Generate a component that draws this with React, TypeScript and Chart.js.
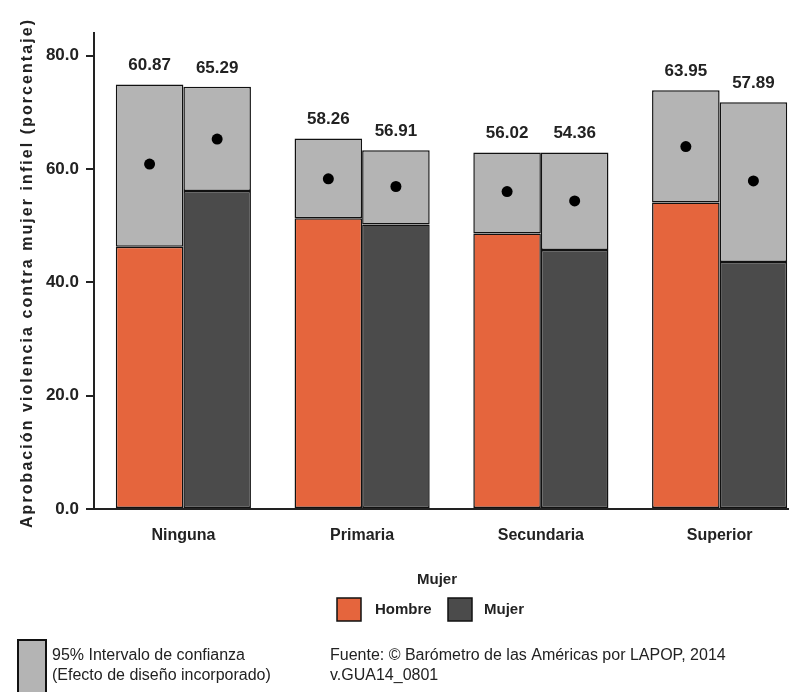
import React, { useEffect, useRef } from 'react';
import { Chart, registerables } from 'chart.js';

Chart.register(...registerables);

const categories = ['Ninguna', 'Primaria', 'Secundaria', 'Superior'];
const hombreMean = [60.87, 58.26, 56.02, 63.95];
const mujerMean = [65.29, 56.91, 54.36, 57.89];
const hombreLow = [46.3, 51.3, 48.6, 54.1];
const hombreHigh = [74.9, 65.4, 62.9, 73.9];
const mujerLow = [56.1, 50.2, 45.7, 43.6];
const mujerHigh = [74.5, 63.3, 62.9, 71.8];
const yTicks = [0, 20, 40, 60, 80];
const yTitle = 'Aprobación violencia contra mujer infiel (porcentaje)';
const legendTitle = 'Mujer';
const seriesNames = ['Hombre', 'Mujer'];
const ciLines = ['95% Intervalo de confianza', '(Efecto de diseño incorporado)'];
const sourceLines = ['Fuente: \u00A9 Barómetro de las Américas por LAPOP, 2014', 'v.GUA14_0801'];

const ORANGE = '#E5653D';
const DARK = '#4B4B4B';
const CI = '#B4B4B4';
const INK = '#222222';
const FONT = '"Liberation Sans", Arial, sans-serif';

export default function App() {
  const ref = useRef<HTMLCanvasElement>(null);

  useEffect(() => {
    const canvas = ref.current;
    if (!canvas) return;

    const overlay = {
      id: 'overlay',
      afterDatasetsDraw(chart: any) {
        const ctx = chart.ctx;
        const y = chart.scales.y;
        const groups = [
          { meta: chart.getDatasetMeta(1), means: hombreMean },
          { meta: chart.getDatasetMeta(3), means: mujerMean },
        ];
        ctx.save();
        groups.forEach((g) => {
          g.meta.data.forEach((bar: any, i: number) => {
            const x = bar.x;
            const ym = y.getPixelForValue(g.means[i]);
            ctx.beginPath();
            ctx.arc(x, ym, 5.5, 0, Math.PI * 2);
            ctx.fillStyle = '#000';
            ctx.fill();
            ctx.font = `bold 17px ${FONT}`;
            ctx.textAlign = 'center';
            ctx.textBaseline = 'middle';
            ctx.fillStyle = INK;
            ctx.fillText(g.means[i].toFixed(2), x, bar.y - 19);
          });
        });
        ctx.restore();
      },
      afterDraw(chart: any) {
        const ctx = chart.ctx;
        const area = chart.chartArea;
        ctx.save();
        // y axis title with letter spacing
        ctx.font = `bold 16px ${FONT}`;
        ctx.fillStyle = INK;
        ctx.textBaseline = 'middle';
        const target = 508;
        const w = ctx.measureText(yTitle).width;
        const sp = Math.max(0, (target - w) / (yTitle.length - 1));
        ctx.translate(20, (area.top + area.bottom) / 2 + 3);
        ctx.rotate(-Math.PI / 2);
        let cx = -target / 2;
        ctx.textAlign = 'left';
        for (const ch of yTitle) {
          ctx.fillText(ch, cx, 0);
          cx += ctx.measureText(ch).width + sp;
        }
        ctx.setTransform(1, 0, 0, 1, 0, 0);
        ctx.restore();

        ctx.save();
        ctx.fillStyle = INK;
        ctx.font = `bold 15px ${FONT}`;
        ctx.textBaseline = 'middle';
        ctx.textAlign = 'center';
        ctx.fillText(legendTitle, 429, 572);
        ctx.textAlign = 'left';
        const boxes = [
          { x: 329, color: ORANGE, label: seriesNames[0], tx: 367 },
          { x: 440, color: DARK, label: seriesNames[1], tx: 476 },
        ];
        boxes.forEach((b) => {
          ctx.fillStyle = b.color;
          ctx.fillRect(b.x, 590, 24, 23);
          ctx.strokeStyle = '#111';
          ctx.lineWidth = 1.5;
          ctx.strokeRect(b.x, 590, 24, 23);
          ctx.fillStyle = INK;
          ctx.fillText(b.label, b.tx, 602);
        });
        ctx.fillStyle = CI;
        ctx.fillRect(10, 632, 28, 60);
        ctx.strokeStyle = '#111';
        ctx.lineWidth = 2;
        ctx.strokeRect(10, 632, 28, 60);
        ctx.fillStyle = INK;
        ctx.font = `16px ${FONT}`;
        ctx.fillText(ciLines[0], 44, 648);
        ctx.fillText(ciLines[1], 44, 668);
        ctx.fillText(sourceLines[0], 322, 648);
        ctx.fillText(sourceLines[1], 322, 668);
        ctx.restore();
      },
    };

    const barBase = {
      borderColor: '#111',
      borderWidth: 1.5,
      borderSkipped: false,
      categoryPercentage: 0.756,
      barPercentage: 1.0,
    };

    const chart = new Chart(canvas, {
      type: 'bar',
      data: {
        labels: categories,
        datasets: [
          { ...barBase, label: seriesNames[0], stack: 'h', data: hombreLow, backgroundColor: ORANGE },
          { ...barBase, label: 'IC ' + seriesNames[0], stack: 'h', data: hombreHigh.map((v, i) => v - hombreLow[i]), backgroundColor: CI },
          { ...barBase, label: seriesNames[1], stack: 'm', data: mujerLow, backgroundColor: DARK },
          { ...barBase, label: 'IC ' + seriesNames[1], stack: 'm', data: mujerHigh.map((v, i) => v - mujerLow[i]), backgroundColor: CI },
        ],
      },
      options: {
        responsive: false,
        animation: false,
        layout: { padding: { top: 25, bottom: 140, left: 0, right: 0 } },
        plugins: { legend: { display: false }, tooltip: { enabled: false } },
        scales: {
          x: {
            grid: { display: false, drawTicks: false, tickLength: 0 },
            border: { display: true, color: INK, width: 2 },
            ticks: { color: INK, font: { family: FONT, size: 16, weight: 'bold' }, padding: 17 },
            afterFit: (s: any) => { s.height = 43; },
          },
          y: {
            stacked: true,
            min: 0,
            max: 84,
            border: { display: true, color: INK, width: 2 },
            grid: { drawOnChartArea: false, drawTicks: true, tickLength: 8, color: INK, lineWidth: 2 },
            ticks: {
              stepSize: 20,
              color: INK,
              font: { family: FONT, size: 17, weight: 'bold' },
              padding: 7,
              callback: (v: any) => Number(v).toFixed(1),
            },
            afterBuildTicks: (s: any) => {
              s.ticks = yTicks.map((v) => ({ value: v }));
            },
            afterFit: (s: any) => { s.width = 86; },
          },
        },
      },
      plugins: [overlay],
    });

    return () => chart.destroy();
  }, []);

  return (
    <div style={{ position: 'fixed', top: 8, left: 8, width: 781, height: 684, overflow: 'hidden' }}>
      <canvas ref={ref} width={801} height={684} style={{ display: 'block', width: 801, height: 684 }} />
    </div>
  );
}
